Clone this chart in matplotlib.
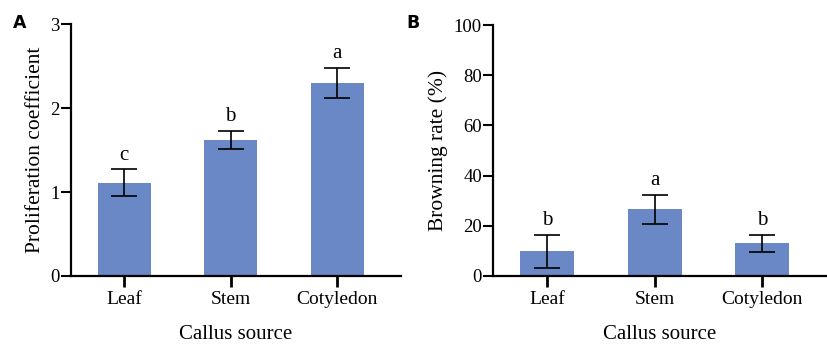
import matplotlib
matplotlib.use("Agg")
import matplotlib.pyplot as plt
import numpy as np

plt.rcParams['font.family'] = ['Liberation Serif', 'DejaVu Serif']

sources = ['Leaf', 'Stem', 'Cotyledon']

prolif_mean = [1.11, 1.62, 2.30]
prolif_sd = [0.16, 0.11, 0.18]
prolif_letters = ['c', 'b', 'a']

brown_mean = [9.8, 26.6, 13.1]
brown_sd = [6.7, 5.8, 3.4]
brown_letters = ['b', 'a', 'b']

bar_color = '#6b88c6'

fig = plt.figure(figsize=(8.28, 3.45), dpi=100)
axA = fig.add_axes([0.0857, 0.2, 0.3986, 0.7304])
axB = fig.add_axes([0.5954, 0.2, 0.4034, 0.7275])


def draw_panel(ax, means, sds, letters, ymax, yticks, ylabel, pad):
    x = np.arange(len(sources))
    ax.bar(x, means, width=0.5, color=bar_color, zorder=2)
    ax.errorbar(x, means, yerr=sds, fmt='none', ecolor='black',
                elinewidth=1.2, capsize=9.5, capthick=1.2, zorder=3)
    for xi, m, s, l in zip(x, means, sds, letters):
        ax.text(xi, m + s + pad, l, ha='center', va='bottom', fontsize=15)
    ax.set_xlim(-0.5, 2.6)
    ax.set_ylim(0, ymax)
    ax.set_yticks(yticks)
    ax.set_xticks(x)
    ax.set_xticklabels(sources, fontsize=14)
    ax.tick_params(axis='y', labelsize=13.5, width=1.5, length=7, pad=1)
    ax.tick_params(axis='x', width=2, length=8, pad=3)
    for s in ['top', 'right']:
        ax.spines[s].set_visible(False)
    for s in ['left', 'bottom']:
        ax.spines[s].set_linewidth(1.6)
    ax.set_xlabel('Callus source', fontsize=15, labelpad=12)
    ax.set_ylabel(ylabel, fontsize=15.5, labelpad=4)


draw_panel(axA, prolif_mean, prolif_sd, prolif_letters, 3, [0, 1, 2, 3],
           'Proliferation coefficient', 0.05)
draw_panel(axB, brown_mean, brown_sd, brown_letters, 100, [0, 20, 40, 60, 80, 100],
           'Browning rate (%)', 1.8)

fig.text(0.016, 0.92, 'A', fontsize=12.5, fontweight='bold', family='DejaVu Sans')
fig.text(0.491, 0.92, 'B', fontsize=12.5, fontweight='bold', family='DejaVu Sans')

fig.savefig('out.png', dpi=100)
